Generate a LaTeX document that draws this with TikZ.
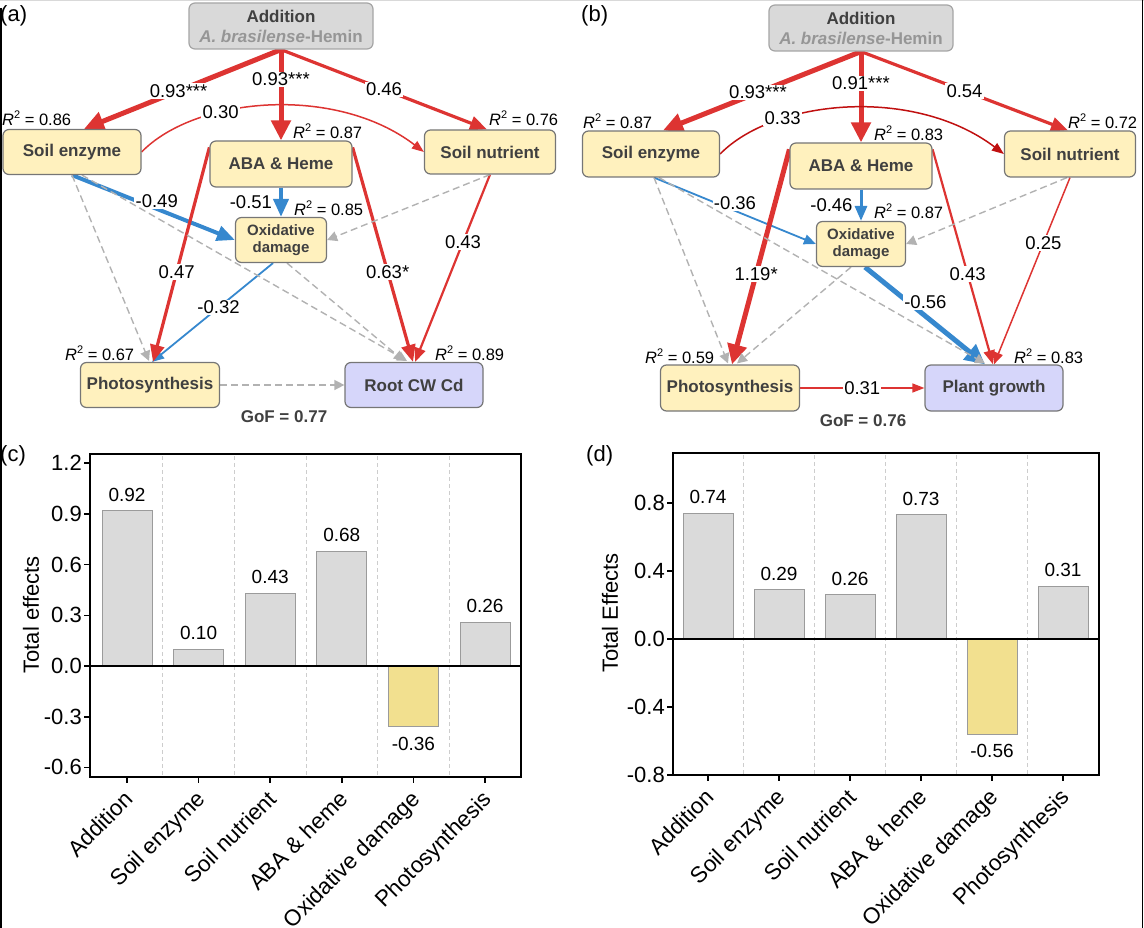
\documentclass[tikz,border=0pt]{standalone}
\usepackage{fontspec}
\setmainfont{Liberation Sans}
\usetikzlibrary{arrows.meta,calc,backgrounds}
\definecolor{pRed}{RGB}{221,52,50}
\definecolor{pDRed}{RGB}{192,16,16}
\definecolor{pBlue}{RGB}{54,136,206}
\definecolor{dGray}{RGB}{178,178,178}
\definecolor{bYel}{RGB}{255,241,190}
\definecolor{bLav}{RGB}{214,214,250}
\definecolor{bGry}{RGB}{217,217,217}
\definecolor{bBrd}{RGB}{118,118,118}
\definecolor{aBrd}{RGB}{165,165,165}
\definecolor{tGry}{RGB}{64,64,64}
\definecolor{tLgt}{RGB}{150,150,150}
\definecolor{barG}{RGB}{218,218,218}
\definecolor{barB}{RGB}{155,155,155}
\definecolor{barY}{RGB}{242,224,143}
\definecolor{sepC}{RGB}{205,205,205}
\newcommand\rsq[1]{{\itshape R}\raisebox{0.45em}{\fontsize{11}{11}\selectfont 2} = #1}
\tikzset{
  sembox/.style={draw=bBrd, line width=1.2pt, rounded corners=6pt, fill=bYel, inner sep=0pt,
    align=center, text=tGry, font=\fontsize{17}{20}\selectfont\bfseries},
  lavbox/.style={sembox, fill=bLav},
  addbox/.style={sembox, fill=bGry, draw=aBrd},
  elab/.style={fill=white, inner sep=1.2pt, text=black, font=\fontsize{18.5}{22}\selectfont},
  nlab/.style={inner sep=0pt, text=black, font=\fontsize{18.5}{22}\selectfont},
  rlab/.style={inner sep=0pt, anchor=west, text=black, font=\fontsize{16.5}{20}\selectfont},
  plab/.style={inner sep=0pt, anchor=west, font=\fontsize{22}{26}\selectfont},
  gof/.style={inner sep=0pt, text=tGry, font=\fontsize{17}{20}\selectfont\bfseries},
  rXL/.style={draw=pRed, line width=5pt, -{Triangle[length=20pt,width=19pt]}},
  rL/.style={draw=pRed, line width=3.2pt, -{Triangle[length=17pt,width=14pt]}},
  rM/.style={draw=pRed, line width=2.2pt, -{Triangle[length=14pt,width=11pt]}},
  rS/.style={draw=pRed, line width=1.5pt, -{Triangle[length=12pt,width=9pt]}},
  drS/.style={draw=pDRed, line width=1.5pt, -{Triangle[length=12pt,width=9pt]}},
  bXL/.style={draw=pBlue, line width=5pt, -{Triangle[length=20pt,width=19pt]}},
  bL/.style={draw=pBlue, line width=4pt, -{Triangle[length=18pt,width=15pt]}},
  bM/.style={draw=pBlue, line width=3pt, -{Triangle[length=15pt,width=12pt]}},
  bS/.style={draw=pBlue, line width=1.8pt, -{Triangle[length=12pt,width=10pt]}},
  dg/.style={draw=dGray, line width=1.4pt, dash pattern=on 7pt off 4pt, -{Triangle[length=10pt,width=10pt]}},
  sepline/.style={draw=sepC, line width=0.9pt, dash pattern=on 4pt off 3pt},
  barP/.style={draw=barB, line width=1pt, fill=barG},
  barN/.style={draw=barB, line width=1pt, fill=barY},
  ticklab/.style={inner sep=0pt, anchor=east, font=\fontsize{22}{26}\selectfont},
  vallab/.style={inner sep=0pt, font=\fontsize{19}{22}\selectfont},
  catlab/.style={inner sep=0pt, anchor=north east, rotate=45, font=\fontsize{22.5}{26}\selectfont},
  axlab/.style={inner sep=0pt, rotate=90, font=\fontsize{22}{26}\selectfont}
}
\begin{document}
\begin{tikzpicture}[x=1pt,y=-1pt]
\useasboundingbox (0,0) rectangle (1144,928);
% frame artefacts
\draw[gray!30, line width=1pt] (0,0.5) -- (1144,0.5);
\draw[black, line width=1.6pt] (0.8,8) -- (0.8,928);
\draw[black, line width=1.6pt] (1142.6,0) -- (1142.6,928);

% ---------------- panel (a) ----------------
\node[plab] at (0,16) {(a)};
\node[addbox, minimum width=184pt, minimum height=46pt] (addA) at (281,26)
  {Addition\\\textcolor{tLgt}{\textit{A. brasilense}-Hemin}};
\node[sembox, minimum width=138pt, minimum height=45pt] (seA) at (72,152) {Soil enzyme};
\node[sembox, minimum width=142pt, minimum height=46pt] (abaA) at (281,164) {ABA \& Heme};
\node[sembox, minimum width=131pt, minimum height=44pt] (snA) at (490,152) {Soil nutrient};
\node[sembox, minimum width=91pt, minimum height=45pt, font=\fontsize{15}{17}\selectfont\bfseries] (oxA) at (281,240) {Oxidative\\damage};
\node[sembox, minimum width=139pt, minimum height=45pt] (phA) at (150,385) {Photosynthesis};
\node[lavbox, minimum width=138pt, minimum height=45pt] (rootA) at (414,385) {Root CW Cd};

\begin{pgfonlayer}{background}
\draw[rXL] (addA.south) -- node[elab,pos=0.52]{0.93***} ($(seA.north)+(12,0)$);
\draw[rXL] (addA.south) -- node[elab,pos=0.33]{0.93***} (abaA.north);
\draw[rL] (addA.south) -- node[elab,pos=0.5]{0.46} ($(snA.north)+(-3,0)$);
\draw[rS] (seA.east) .. controls (195,97) and (335,84) .. node[elab,pos=0.34]{0.30} (snA.west);
\draw[bL] (abaA.south) -- node[nlab,pos=0.5,left=7pt]{-0.51} (oxA.north);
\draw[bL] (seA.south) -- node[elab,pos=0.52,yshift=8pt]{-0.49} (oxA.west);
\draw[bS] ($(oxA.south)+(-8,0)$) -- node[elab,pos=0.45]{-0.32} ($(phA.north)+(2,0)$);
\draw[rL] ($(abaA.north west)+(0,7)$) -- node[elab,pos=0.58]{0.47} ($(phA.north)+(3,0)$);
\draw[rL] ($(abaA.north east)+(0,7)$) -- node[elab,pos=0.58]{0.63*} ($(rootA.north)+(-1,0)$);
\draw[rM] (snA.south) -- node[elab,pos=0.36]{0.43} ($(rootA.north)+(1,0)$);
\draw[dg] (snA.south) -- (oxA.east);
\draw[dg] (seA.south) -- ($(phA.north)+(-1,-1)$);
\draw[dg] ($(seA.south)+(10,0)$) -- ($(rootA.north)+(-7,-1)$);
\draw[dg] ($(oxA.south)+(6,0)$) -- ($(rootA.north)+(-10,-1)$);
\draw[dg] (phA.east) -- (rootA.west);
\end{pgfonlayer}

\node[rlab] at (2,118) {\rsq{0.86}};
\node[rlab] at (293,131) {\rsq{0.87}};
\node[rlab] at (489,118) {\rsq{0.76}};
\node[rlab] at (294,208) {\rsq{0.85}};
\node[rlab] at (65,353) {\rsq{0.67}};
\node[rlab] at (435,353) {\rsq{0.89}};
\node[gof] at (284,417) {GoF = 0.77};

% ---------------- panel (b) ----------------
\node[plab] at (581,16) {(b)};
\node[addbox, minimum width=184pt, minimum height=46pt] (addB) at (861,28)
  {Addition\\\textcolor{tLgt}{\textit{A. brasilense}-Hemin}};
\node[sembox, minimum width=137pt, minimum height=46pt] (seB) at (651,154) {Soil enzyme};
\node[sembox, minimum width=142pt, minimum height=46pt] (abaB) at (861,166) {ABA \& Heme};
\node[sembox, minimum width=131pt, minimum height=46pt] (snB) at (1070,154) {Soil nutrient};
\node[sembox, minimum width=89pt, minimum height=45pt, font=\fontsize{15}{17}\selectfont\bfseries] (oxB) at (861,244) {Oxidative\\damage};
\node[sembox, minimum width=139pt, minimum height=46pt] (phB) at (730,388) {Photosynthesis};
\node[lavbox, minimum width=138pt, minimum height=46pt] (pgB) at (994,388) {Plant growth};

\begin{pgfonlayer}{background}
\draw[rXL] (addB.south) -- node[elab,pos=0.52]{0.93***} ($(seB.north)+(12,0)$);
\draw[rXL] (addB.south) -- node[elab,pos=0.35]{0.91***} (abaB.north);
\draw[rL] (addB.south) -- node[elab,pos=0.5]{0.54} ($(snB.north)+(-2,0)$);
\draw[drS] (seB.east) .. controls (774,99) and (914,86) .. node[elab,pos=0.28]{0.33} (snB.west);
\draw[bM] (abaB.south) -- node[nlab,pos=0.5,left=7pt]{-0.46} (oxB.north);
\draw[bS] ($(seB.south)+(3,0)$) -- node[elab,pos=0.5,yshift=8pt]{-0.36} (oxB.west);
\draw[bXL] ($(oxB.south)+(4,0)$) -- node[elab,pos=0.42,xshift=10pt,yshift=6pt]{-0.56} ($(pgB.north)+(-9,0)$);
\draw[rXL] ($(abaB.north west)+(0,7)$) -- node[elab,pos=0.58]{1.19*} ($(phB.north)+(2,0)$);
\draw[rM] ($(abaB.north east)+(0,7)$) -- node[elab,pos=0.58]{0.43} ($(pgB.north)+(-1,0)$);
\draw[rS] (snB.south) -- node[elab,pos=0.35]{0.25} ($(pgB.north)+(0,0)$);
\draw[rS] (phB.east) -- node[elab,pos=0.5]{0.31} (pgB.west);
\draw[dg] ($(snB.south)+(-3,0)$) -- (oxB.east);
\draw[dg] ($(seB.south)+(3,0)$) -- ($(phB.north)+(-2,-1)$);
\draw[dg] ($(seB.south)+(8,0)$) -- ($(pgB.north)+(-9,-1)$);
\draw[dg] ($(oxB.south)+(-10,0)$) -- ($(phB.north)+(7,-1)$);
\end{pgfonlayer}

\node[rlab] at (583,121) {\rsq{0.87}};
\node[rlab] at (874,133) {\rsq{0.83}};
\node[rlab] at (1068,121) {\rsq{0.72}};
\node[rlab] at (874,211) {\rsq{0.87}};
\node[rlab] at (645,356) {\rsq{0.59}};
\node[rlab] at (1014,356) {\rsq{0.83}};
\node[gof] at (863,421) {GoF = 0.76};

% ---------------- panel (c) ----------------
\node[plab] at (0,456) {(c)};
\foreach \x in {162.8,234.4,306,377.6,449.2} \draw[sepline] (\x,456) -- (\x,776);
\foreach \i/\v in {0/0.92,1/0.10,2/0.43,3/0.68,5/0.26} {
  \draw[barP] ({127+71.6*\i-25},666) rectangle ({127+71.6*\i+25},{666-169*(\v)});
  \node[vallab] at ({127+71.6*\i},{666-169*(\v)-16}) {\v};
}
\draw[barN] ({127+71.6*4-25},666) rectangle ({127+71.6*4+25},{666+169*0.36});
\node[vallab] at ({127+71.6*4},{666+169*0.36+17}) {-0.36};
\draw[line width=2.2pt] (90,666) -- (521,666);
\draw[line width=2.4pt] (90,454) rectangle (521,777);
\foreach \v/\t in {1.2/1.2,0.9/0.9,0.6/0.6,0.3/0.3,0/0.0,-0.3/-0.3,-0.6/-0.6} {
  \draw[line width=1.6pt] (84,{666-169*(\v)}) -- (90,{666-169*(\v)});
  \node[ticklab] at (82,{666-169*(\v)}) {\t};
}
\foreach \i/\t in {0/Addition,1/Soil enzyme,2/Soil nutrient,3/ABA \& heme,4/Oxidative damage,5/Photosynthesis} {
  \draw[line width=1.6pt] ({127+71.6*\i},777) -- ({127+71.6*\i},783);
  \node[catlab] at ({127+71.6*\i-4},789) {\t};
}
\node[axlab] at (31,615) {Total effects};

% ---------------- panel (d) ----------------
\node[plab] at (586,456) {(d)};
\foreach \x in {743.5,814.5,885.5,956.5,1027.5} \draw[sepline] (\x,455) -- (\x,774);
\foreach \i/\v in {0/0.74,1/0.29,2/0.26,3/0.73,5/0.31} {
  \draw[barP] ({708+71*\i-25},639) rectangle ({708+71*\i+25},{639-170*(\v)});
  \node[vallab] at ({708+71*\i},{639-170*(\v)-16}) {\v};
}
\draw[barN] ({708+71*4-25},639) rectangle ({708+71*4+25},{639+170*0.56});
\node[vallab] at ({708+71*4},{639+170*0.56+17}) {-0.56};
\draw[line width=2.2pt] (673,639) -- (1099,639);
\draw[line width=2.4pt] (673,453) rectangle (1099,775);
\foreach \v/\t in {0.8/0.8,0.4/0.4,0/0.0,-0.4/-0.4,-0.8/-0.8} {
  \draw[line width=1.6pt] (667,{639-170*(\v)}) -- (673,{639-170*(\v)});
  \node[ticklab] at (665,{639-170*(\v)}) {\t};
}
\foreach \i/\t in {0/Addition,1/Soil enzyme,2/Soil nutrient,3/ABA \& heme,4/Oxidative damage,5/Photosynthesis} {
  \draw[line width=1.6pt] ({708+71*\i},775) -- ({708+71*\i},781);
  \node[catlab] at ({708+71*\i-4},787) {\t};
}
\node[axlab] at (610,613) {Total Effects};
\end{tikzpicture}
\end{document}
